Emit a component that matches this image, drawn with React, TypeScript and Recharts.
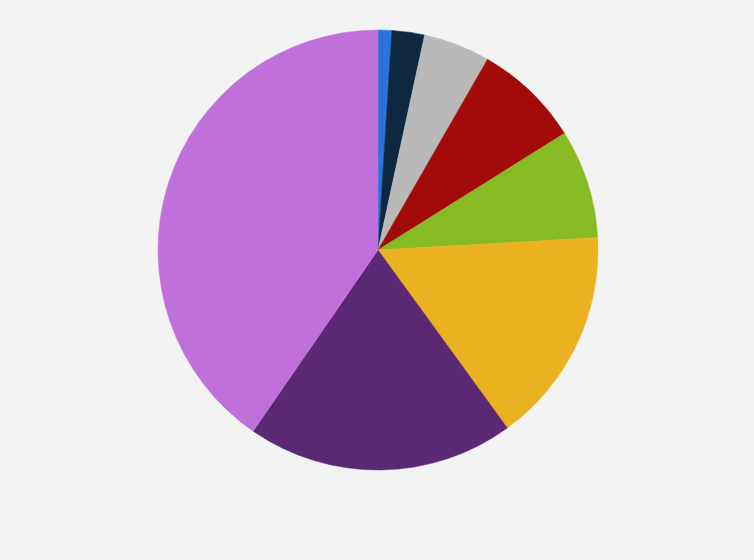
import React from 'react';
import { PieChart, Pie, Cell } from 'recharts';

const categories = ['A', 'B', 'C', 'D', 'E', 'F', 'G', 'H'];
const values = [1.0, 2.4, 4.9, 7.8, 8.0, 15.9, 19.6, 40.4];
const colors = ['#2876dd', '#0e2841', '#b9b9b9', '#a30b0b', '#87bb24', '#eab221', '#5c2873', '#c070da'];

const data = categories.map((name, i) => ({ name, value: values[i] }));

export default function App() {
  return (
    <div style={{ position: 'absolute', left: 0, top: 0, width: 754, height: 560, background: '#f3f3f3' }}>
      <PieChart width={754} height={560} margin={{ top: 0, right: 0, bottom: 0, left: 0 }}>
        <Pie
          data={data}
          dataKey="value"
          nameKey="name"
          cx={378}
          cy={250}
          outerRadius={220}
          innerRadius={0}
          startAngle={90}
          endAngle={-270}
          isAnimationActive={false}
          stroke="none"
        >
          {data.map((d, i) => (
            <Cell key={d.name} fill={colors[i]} stroke={colors[i]} strokeWidth={0.5} />
          ))}
        </Pie>
      </PieChart>
    </div>
  );
}
